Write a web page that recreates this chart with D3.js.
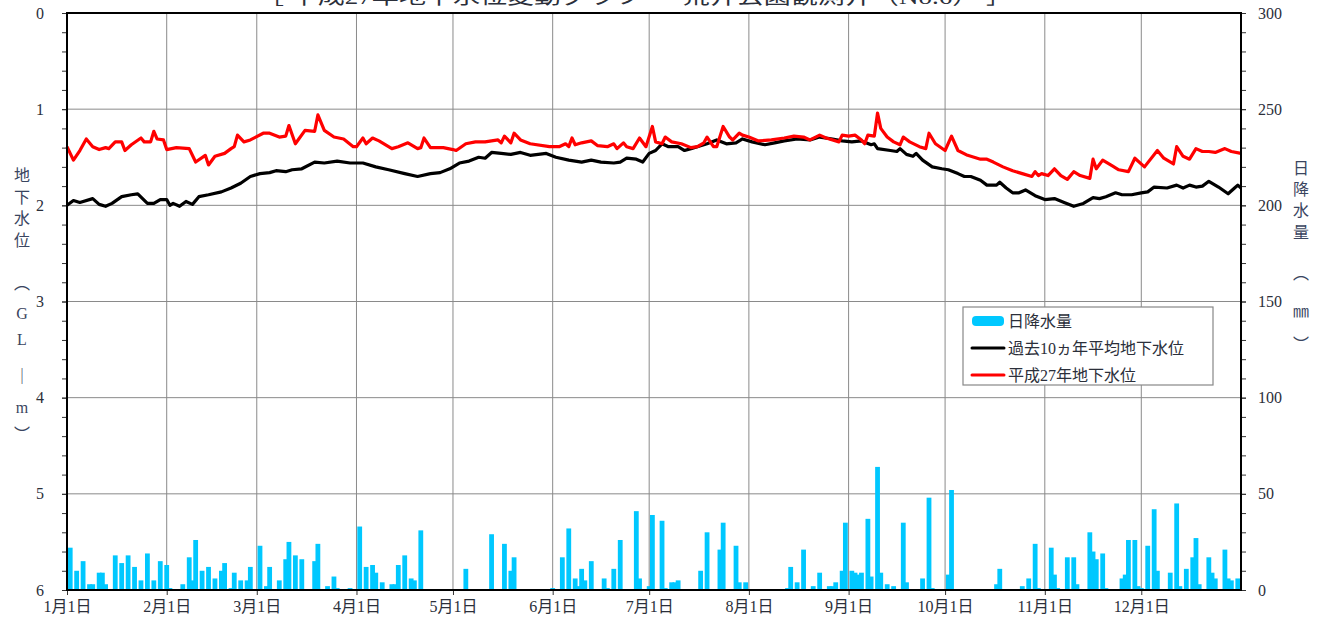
<!DOCTYPE html>
<html>
<head>
<meta charset="utf-8">
<script src="https://cdn.jsdelivr.net/npm/d3@7"></script>
<style>
  body { margin: 0; background: #fff; }
  svg text { font-family: "Liberation Serif", "Noto Sans CJK JP", serif; fill: #2b2f3a; }
</style>
</head>
<body>
<svg id="chart" width="1330" height="626"></svg>
<script>
// month boundaries (day of year) and their labels
var monthDays = [0, 31, 59, 90, 120, 151, 181, 212, 243, 273, 304, 334]
var monthLabels = ["1月1日", "2月1日", "3月1日", "4月1日", "5月1日", "6月1日",
                   "7月1日", "8月1日", "9月1日", "10月1日", "11月1日", "12月1日"]

var levelTicks = [0, 1, 2, 3, 4, 5, 6]
var rainTicks = [0, 50, 100, 150, 200, 250, 300]

// 平成27年地下水位 [day, GL-m]
var levelThisYear = [
  [0,1.39],[2,1.53],[4,1.43],[6,1.31],[8,1.39],[10,1.42],[12,1.40],[13,1.41],[15,1.34],[17,1.34],
  [18,1.43],[20,1.37],[23,1.30],[24,1.34],[26,1.34],[27,1.23],[28,1.31],[30,1.32],[31,1.42],[34,1.40],
  [38,1.41],[40,1.55],[43,1.48],[44,1.58],[46,1.49],[49,1.46],[51,1.41],[52,1.39],[53,1.27],[55,1.34],
  [57,1.32],[61,1.25],[63,1.25],[66,1.29],[68,1.28],[69,1.17],[71,1.36],[74,1.22],[77,1.23],[78,1.06],
  [80,1.22],[83,1.29],[86,1.31],[89,1.39],[90,1.39],[92,1.30],[93,1.36],[95,1.30],[97,1.33],[101,1.41],
  [103,1.39],[106,1.35],[109,1.41],[110,1.40],[111,1.30],[113,1.40],[117,1.40],[120,1.42],[121,1.43],[124,1.36],
  [127,1.34],[130,1.34],[134,1.32],[135,1.35],[136,1.28],[138,1.35],[139,1.25],[141,1.32],[144,1.36],[150,1.39],
  [153,1.39],[155,1.36],[156,1.39],[157,1.30],[158,1.37],[160,1.35],[163,1.33],[165,1.38],[168,1.39],[170,1.36],
  [171,1.41],[173,1.35],[174,1.39],[176,1.41],[178,1.30],[180,1.39],[182,1.18],[183,1.34],[185,1.36],[186,1.29],
  [188,1.34],[191,1.36],[194,1.40],[196,1.39],[198,1.35],[199,1.29],[201,1.39],[202,1.39],[204,1.18],[206,1.29],
  [207,1.32],[209,1.25],[210,1.27],[212,1.29],[215,1.33],[219,1.32],[223,1.30],[226,1.28],[229,1.29],[231,1.32],
  [234,1.27],[236,1.30],[240,1.34],[241,1.27],[243,1.28],[245,1.27],[247,1.32],[248,1.36],[249,1.27],[251,1.28],
  [252,1.04],[253,1.20],[255,1.29],[257,1.34],[259,1.37],[260,1.29],[262,1.34],[265,1.39],[267,1.41],[268,1.25],
  [270,1.36],[273,1.43],[275,1.28],[277,1.43],[280,1.48],[284,1.52],[286,1.52],[288,1.55],[291,1.60],[294,1.64],
  [297,1.67],[300,1.70],[301,1.65],[302,1.69],[303,1.67],[305,1.69],[307,1.62],[309,1.69],[311,1.73],[313,1.65],
  [315,1.69],[318,1.72],[319,1.52],[320,1.62],[322,1.53],[325,1.59],[327,1.63],[330,1.65],[332,1.51],[335,1.60],
  [339,1.43],[341,1.51],[344,1.57],[345,1.39],[347,1.49],[349,1.52],[351,1.41],[353,1.44],[355,1.44],[357,1.45],
  [360,1.41],[362,1.44],[365,1.46]
]

// 過去10ヵ年平均地下水位 [day, GL-m]
var levelAverage = [
  [0,2.00],[2,1.95],[4,1.97],[8,1.93],[10,1.99],[12,2.01],[14,1.98],[17,1.91],[20,1.89],[22,1.88],
  [25,1.98],[27,1.98],[29,1.94],[31,1.94],[32,2.00],[33,1.98],[35,2.01],[37,1.96],[39,1.99],[41,1.91],
  [44,1.89],[48,1.86],[51,1.82],[54,1.77],[57,1.70],[60,1.67],[63,1.66],[65,1.64],[68,1.65],[70,1.63],
  [73,1.62],[77,1.55],[80,1.56],[84,1.54],[88,1.56],[92,1.56],[96,1.60],[100,1.63],[105,1.67],[109,1.70],
  [113,1.67],[116,1.66],[119,1.62],[122,1.56],[125,1.54],[128,1.50],[130,1.51],[132,1.45],[135,1.46],[138,1.47],
  [141,1.45],[144,1.48],[149,1.46],[152,1.50],[156,1.53],[160,1.55],[163,1.53],[166,1.55],[170,1.56],[172,1.55],
  [174,1.51],[177,1.52],[179,1.55],[181,1.46],[183,1.43],[185,1.36],[187,1.39],[190,1.39],[192,1.43],[194,1.41],
  [196,1.39],[199,1.36],[202,1.32],[205,1.36],[208,1.35],[210,1.31],[213,1.34],[217,1.37],[220,1.35],[223,1.33],
  [227,1.31],[231,1.32],[234,1.29],[238,1.31],[241,1.33],[244,1.34],[247,1.33],[250,1.37],[251,1.36],[252,1.41],
  [256,1.43],[258,1.44],[259,1.41],[261,1.47],[263,1.49],[264,1.46],[266,1.53],[269,1.60],[272,1.62],[274,1.63],
  [277,1.67],[279,1.70],[281,1.70],[284,1.74],[286,1.79],[289,1.79],[290,1.76],[292,1.82],[294,1.87],[296,1.87],
  [298,1.84],[301,1.90],[304,1.94],[307,1.93],[310,1.97],[313,2.01],[316,1.98],[319,1.92],[321,1.93],[323,1.91],
  [326,1.87],[328,1.89],[331,1.89],[334,1.87],[336,1.86],[338,1.81],[342,1.82],[345,1.79],[347,1.82],[349,1.79],
  [351,1.81],[353,1.80],[355,1.75],[358,1.81],[361,1.88],[363,1.82],[364,1.79],[365,1.82]
]

// 日降水量 [day, mm]
var rainfall = [
  [1,22],[3,10],[5,15],[7,3],[8,3],[10,9],[11,9],[12,3],[15,18],[17,14],[19,18],[21,12],[23,5],[25,19],
  [27,5],[29,15],[31,13],[32,1],[36,3],[38,17],[39,5],[40,26],[42,10],[44,12],[46,6],[48,10],[49,14],[51,1],
  [52,9],[54,5],[56,5],[57,12],[60,23],[62,2],[63,12],[66,5],[68,16],[69,25],[71,18],[73,16],[77,15],[78,24],
  [81,2],[83,7],[84,1],[88,1],[91,33],[93,12],[95,13],[96,9],[98,4],[101,3],[102,3],[103,13],[105,18],[107,6],
  [108,5],[110,31],[124,11],[132,29],[136,24],[138,10],[139,17],[151,1],[154,17],[156,32],[158,6],[159,2],
  [160,11],[161,5],[163,15],[167,6],[168,1],[170,11],[172,26],[177,41],[178,6],[181,2],[182,39],[185,36],
  [186,1],[188,4],[189,4],[190,5],[197,10],[199,30],[203,21],[204,35],[208,23],[209,4],[211,4],[224,1],
  [225,12],[227,4],[229,21],[232,2],[234,9],[237,2],[238,2],[239,4],[241,10],[242,35],[244,10],[245,9],
  [246,8],[247,9],[249,37],[250,7],[252,64],[253,9],[255,3],[257,2],[260,35],[261,4],[266,6],[268,48],
  [269,1],[274,8],[275,52],[289,3],[290,11],[297,2],[299,6],[301,24],[302,1],[306,22],[307,8],[308,1],
  [311,17],[313,17],[314,3],[318,30],[319,20],[320,16],[322,19],[323,1],[328,6],[329,8],[330,26],[332,26],
  [333,2],[334,1],[336,23],[338,42],[339,10],[343,9],[345,45],[346,2],[348,11],[350,17],[351,27],[352,3],
  [355,17],[356,9],[357,6],[360,21],[361,6],[362,5],[364,6]
]

function drawChart() {

    var plotLeft = 67, plotRight = 1241, plotTop = 13, plotBottom = 590

    var svg = d3.select("#chart")

    var x = d3.scaleLinear().domain([0, 365]).range([plotLeft, plotRight])
    var yLevel = d3.scaleLinear().domain([0, 6]).range([plotTop, plotBottom])
    var yRain = d3.scaleLinear().domain([0, 300]).range([plotBottom, plotTop])

    //Title sits mostly above the picture, only its lower part shows
    svg.append("text")
        .attr("x", 257).attr("y", 4)
        .attr("textLength", 756)
        .attr("lengthAdjust", "spacingAndGlyphs")
        .style("font-size", "20px")
        .text("［ 平成27年地下水位変動グラフ － 荒井公園観測井（No.6） ］")

    //grid
    var grid = svg.append("g")
    grid.selectAll(".hgrid").data(levelTicks.slice(1, -1)).enter().append("line")
        .attr("x1", plotLeft).attr("x2", plotRight)
        .attr("y1", function(d) { return yLevel(d) })
        .attr("y2", function(d) { return yLevel(d) })
        .attr("stroke", "#8a8a8a").attr("stroke-width", 1)
    grid.selectAll(".vgrid").data(monthDays.slice(1)).enter().append("line")
        .attr("y1", plotTop).attr("y2", plotBottom)
        .attr("x1", function(d) { return x(d) })
        .attr("x2", function(d) { return x(d) })
        .attr("stroke", "#8a8a8a").attr("stroke-width", 1)

    //rain bars
    svg.append("g").selectAll("rect").data(rainfall).enter().append("rect")
        .attr("x", function(d) { return x(d[0]) - 2.4 })
        .attr("width", 4.8)
        .attr("y", function(d) { return yRain(d[1]) })
        .attr("height", function(d) { return plotBottom - yRain(d[1]) })
        .attr("fill", "#00c8ff")

    var line = d3.line()
        .x(function(d) { return x(d[0]) })
        .y(function(d) { return yLevel(d[1]) })

    svg.append("path").datum(levelAverage)
        .attr("d", line).attr("fill", "none")
        .attr("stroke", "#000").attr("stroke-width", 3.2).attr("stroke-linejoin", "round")

    svg.append("path").datum(levelThisYear)
        .attr("d", line).attr("fill", "none")
        .attr("stroke", "#ff0000").attr("stroke-width", 3.2).attr("stroke-linejoin", "round")

    //axes: minor ticks first, then labelled ones
    svg.append("g").attr("transform", "translate(" + plotLeft + ",0)")
        .call(d3.axisLeft(yLevel).tickValues(d3.range(0, 6.01, 0.2)).tickSize(5).tickFormat(""))
    svg.append("g").attr("transform", "translate(" + plotLeft + ",0)")
        .call(d3.axisLeft(yLevel).tickValues(levelTicks).tickSize(5).tickPadding(18).tickFormat(d3.format("d")))

    svg.append("g").attr("transform", "translate(" + plotRight + ",0)")
        .call(d3.axisRight(yRain).tickValues(d3.range(0, 301, 10)).tickSize(5).tickFormat(""))
    svg.append("g").attr("transform", "translate(" + plotRight + ",0)")
        .call(d3.axisRight(yRain).tickValues(rainTicks).tickSize(5).tickPadding(12))

    svg.append("g").attr("transform", "translate(0," + plotBottom + ")")
        .call(d3.axisBottom(x).tickValues(monthDays).tickSize(5).tickPadding(6)
            .tickFormat(function(d, i) { return monthLabels[i] }))

    svg.selectAll(".domain").remove()
    svg.selectAll(".tick line").attr("stroke", "#333")
    svg.selectAll(".tick text").style("font-size", "16px").attr("fill", "#3a3f55")

    //frame
    svg.append("rect")
        .attr("x", plotLeft).attr("y", plotTop)
        .attr("width", plotRight - plotLeft).attr("height", plotBottom - plotTop)
        .attr("fill", "none").attr("stroke", "#000").attr("stroke-width", 2)

    //vertical axis titles
    var leftTitle = [["地",177],["下",199],["水",220],["位",242],["︵",285],["G",315],["L",341],["｜",378],["m",409],["︶",436]]
    svg.append("g").selectAll("text").data(leftTitle).enter().append("text")
        .attr("x", 22).attr("y", function(d) { return d[1] })
        .attr("text-anchor", "middle").attr("dominant-baseline", "middle")
        .style("font-size", "16px").style("fill", "#3a4560")
        .text(function(d) { return d[0] })

    var rightTitle = [["日",170],["降",191],["水",212],["量",234],["︵",275],["㎜",313],["︶",346]]
    svg.append("g").selectAll("text").data(rightTitle).enter().append("text")
        .attr("x", 1301).attr("y", function(d) { return d[1] })
        .attr("text-anchor", "middle").attr("dominant-baseline", "middle")
        .style("font-size", "16px").style("fill", "#3a4560")
        .text(function(d) { return d[0] })

    //legend
    var legend = svg.append("g")
    legend.append("rect")
        .attr("x", 963).attr("y", 307).attr("width", 250).attr("height", 78)
        .attr("fill", "#fff").attr("stroke", "#888").attr("stroke-width", 1.2)

    var legendItems = [
      {label: "日降水量", color: "#00c8ff", kind: "bar"},
      {label: "過去10ヵ年平均地下水位", color: "#000", kind: "line"},
      {label: "平成27年地下水位", color: "#ff0000", kind: "line"}
    ]

    legendItems.forEach(function(d, i) {
        var cy = 321 + i * 27
        if (d.kind == "bar") {
            legend.append("rect").attr("x", 972).attr("y", cy - 5).attr("width", 32).attr("height", 10)
                .attr("rx", 4).attr("fill", d.color)
        } else {
            legend.append("line").attr("x1", 972).attr("x2", 1004).attr("y1", cy).attr("y2", cy)
                .attr("stroke", d.color).attr("stroke-width", 3).attr("stroke-linecap", "round")
        }
        legend.append("text").attr("x", 1008).attr("y", cy + 6)
            .style("font-size", "16px").text(d.label)
    })
}

drawChart()
</script>
</body>
</html>
